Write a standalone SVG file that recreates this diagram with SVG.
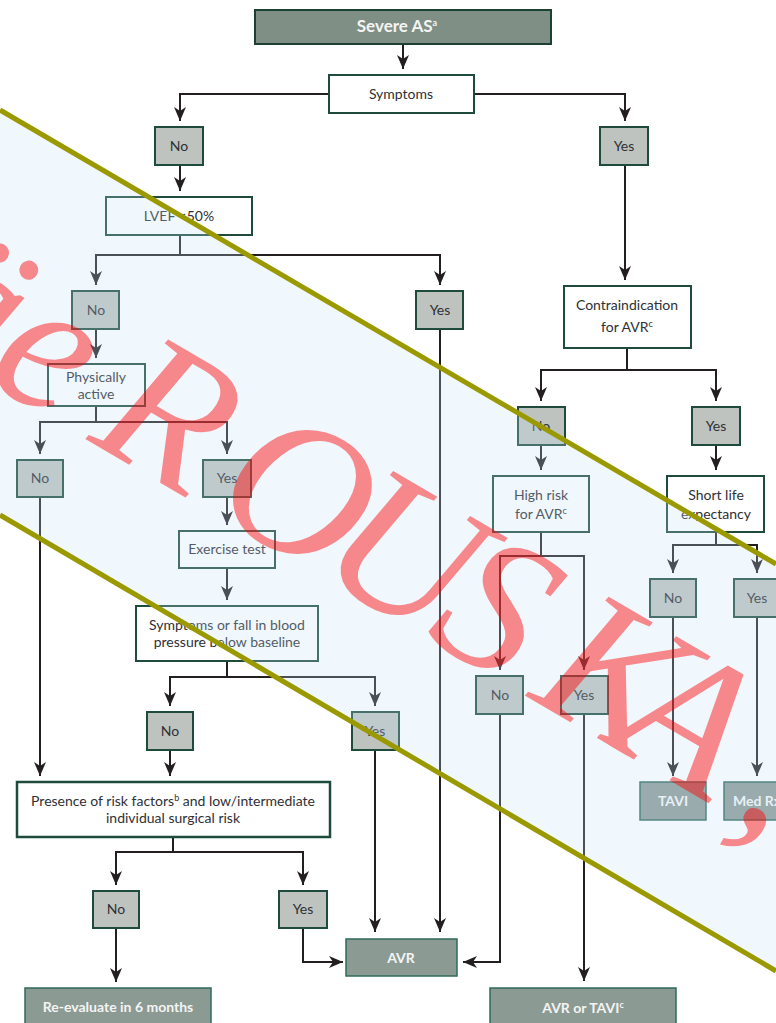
<svg xmlns="http://www.w3.org/2000/svg" width="776" height="1023" viewBox="0 0 776 1023">
  <defs>
    <marker id="ah" viewBox="0 0 14 12" markerWidth="14" markerHeight="12" refX="14" refY="6" orient="auto" markerUnits="userSpaceOnUse">
      <path d="M0,0 L14,6 L0,12 L4,6 Z" fill="#231f20"/>
    </marker>
    <style>
      .q { fill:#ffffff; stroke:#1f4b3d; stroke-width:2 }
      .q2 { fill:#ffffff; stroke:#1f4b3d; stroke-width:2.5 }
      .ans { fill:#bec3bf; stroke:#1f4b3d; stroke-width:2 }
      .res { fill:#8b9a93; stroke:#2f6a5b; stroke-width:1.5 }
      .hdr { fill:#7f8f85; stroke:#1d4034; stroke-width:2 }
      text { font-family: Lato, "Open Sans", sans-serif; font-size:14px; fill:#2e3035; text-anchor:middle }
      .wt { fill:#f4f4f4; font-weight:bold }
      .sup { font-size:9px }
      #connectors path { fill:none; stroke:#231f20; stroke-width:2; marker-end:url(#ah) }
    </style>
  </defs>
  <rect width="776" height="1023" fill="#ffffff"/>

  <g id="connectors">
    <path d="M403,44 V69"/>
    <path d="M329,94 H180 V121"/>
    <path d="M474,94 H625 V121"/>
    <path d="M180,165 V191"/>
    <path d="M180,235 V255 H96 V285"/>
    <path d="M180,255 H440 V285"/>
    <path d="M625,165 V280"/>
    <path d="M440,329 V932"/>
    <path d="M96,329 V358"/>
    <path d="M96,406 V422 H40 V454"/>
    <path d="M96,422 H227 V454"/>
    <path d="M40,497 V776"/>
    <path d="M227,497 V525"/>
    <path d="M227,568 V600"/>
    <path d="M227,661 V677 H170 V706"/>
    <path d="M227,677 H375 V706"/>
    <path d="M170,750 V776"/>
    <path d="M375,750 V932"/>
    <path d="M173,837 V852 H116 V885"/>
    <path d="M173,852 H303 V885"/>
    <path d="M116,928 V982"/>
    <path d="M303,928 V962 H343"/>
    <path d="M627,348 V370 H541 V401"/>
    <path d="M627,370 H716 V401"/>
    <path d="M541,445 V470"/>
    <path d="M716,445 V470"/>
    <path d="M541,532 V556 H500 V670"/>
    <path d="M541,556 H584 V670"/>
    <path d="M500,714 V962 H463"/>
    <path d="M584,714 V981"/>
    <path d="M716,532 V545 H673 V573"/>
    <path d="M716,545 H757 V573"/>
    <path d="M673,617 V776"/>
    <path d="M757,617 V776"/>
  </g>

  <g id="n-severe"><rect class="hdr" x="255" y="10" width="296" height="34"/><text class="wt" x="397" y="32" style="font-size:17px">Severe AS<tspan class="sup" dy="-6">a</tspan></text></g>
  <g id="n-symptoms"><rect class="q" x="329" y="75" width="145" height="38"/><text x="401" y="99">Symptoms</text></g>
  <g id="n-no1"><rect class="ans" x="155" y="127" width="48" height="38"/><text x="179" y="151">No</text></g>
  <g id="n-yes1"><rect class="ans" x="600" y="127" width="48" height="38"/><text x="624" y="151">Yes</text></g>
  <g id="n-lvef"><rect class="q" x="106" y="197" width="146" height="38"/><text x="179" y="221">LVEF &lt;50%</text></g>
  <g id="n-no2"><rect class="ans" x="72" y="291" width="47" height="38"/><text x="96" y="315">No</text></g>
  <g id="n-yes2"><rect class="ans" x="416" y="291" width="47" height="38"/><text x="440" y="315">Yes</text></g>
  <g id="n-active"><rect class="q" x="48" y="364" width="97" height="42"/><text x="96" y="382">Physically</text><text x="96" y="399">active</text></g>
  <g id="n-no3"><rect class="ans" x="17" y="460" width="46" height="37"/><text x="40" y="483">No</text></g>
  <g id="n-yes3"><rect class="ans" x="203" y="460" width="48" height="37"/><text x="227" y="483">Yes</text></g>
  <g id="n-exercise"><rect class="q" x="179" y="531" width="96" height="37"/><text x="227" y="554">Exercise test</text></g>
  <g id="n-fall"><rect class="q" x="136" y="606" width="182" height="55"/><text x="227" y="630">Symptoms or fall in blood</text><text x="227" y="647">pressure below baseline</text></g>
  <g id="n-no4"><rect class="ans" x="147" y="712" width="46" height="38"/><text x="170" y="736">No</text></g>
  <g id="n-yes4"><rect class="ans" x="352" y="712" width="47" height="38"/><text x="375" y="736">Yes</text></g>
  <g id="n-presence"><rect class="q2" x="17" y="782" width="313" height="55"/><text x="173" y="806">Presence of risk factors<tspan class="sup" dy="-5">b</tspan><tspan dy="5"> and low/intermediate</tspan></text><text x="173" y="823">individual surgical risk</text></g>
  <g id="n-no5"><rect class="ans" x="93" y="891" width="46" height="37"/><text x="116" y="914">No</text></g>
  <g id="n-yes5"><rect class="ans" x="279" y="891" width="48" height="37"/><text x="303" y="914">Yes</text></g>
  <g id="n-reeval"><rect class="res" x="25" y="988" width="186" height="40"/><text class="wt" x="118" y="1012">Re-evaluate in 6 months</text></g>
  <g id="n-avr"><rect class="res" x="346" y="939" width="111" height="37"/><text class="wt" x="401" y="963">AVR</text></g>
  <g id="n-contra"><rect class="q" x="564" y="286" width="127" height="62"/><text x="627" y="310">Contraindication</text><text x="627" y="332">for AVR<tspan class="sup" dy="-5">c</tspan></text></g>
  <g id="n-no6"><rect class="ans" x="518" y="407" width="47" height="38"/><text x="541" y="431">No</text></g>
  <g id="n-yes6"><rect class="ans" x="692" y="407" width="48" height="38"/><text x="716" y="431">Yes</text></g>
  <g id="n-highrisk"><rect class="q" x="493" y="476" width="96" height="56"/><text x="541" y="500">High risk</text><text x="541" y="519">for AVR<tspan class="sup" dy="-5">c</tspan></text></g>
  <g id="n-shortlife"><rect class="q" x="667" y="476" width="97" height="56"/><text x="716" y="500">Short life</text><text x="716" y="519">expectancy</text></g>
  <g id="n-no7"><rect class="ans" x="476" y="676" width="47" height="38"/><text x="500" y="700">No</text></g>
  <g id="n-yes7"><rect class="ans" x="561" y="676" width="47" height="38"/><text x="584" y="700">Yes</text></g>
  <g id="n-avrtavi"><rect class="res" x="490" y="988" width="186" height="40"/><text class="wt" x="583" y="1013">AVR or TAVI<tspan class="sup" dy="-5">c</tspan></text></g>
  <g id="n-no8"><rect class="ans" x="650" y="579" width="46" height="38"/><text x="673" y="603">No</text></g>
  <g id="n-yes8"><rect class="ans" x="734" y="579" width="47" height="38"/><text x="757" y="603">Yes</text></g>
  <g id="n-tavi"><rect class="res" x="640" y="782" width="66" height="38"/><text class="wt" x="673" y="806">TAVI</text></g>
  <g id="n-medrx"><rect class="res" x="724" y="782" width="66" height="38"/><text class="wt" x="757" y="806">Med Rx</text></g>

  <!-- diagonal stamp band with its two olive rules and the red lettering -->
  <g id="stamp">
    <polygon points="0,110 776,564 776,971 0,515" fill="rgb(194,223,247)" fill-opacity="0.25"/>
    <path d="M0,110 L776,564 M0,515 L776,971" stroke="#9a9a00" stroke-width="5" fill="none"/>
    <g transform="translate(0,389) rotate(30.3)">
      <text x="-115 -20 100 240 362 490 610 702 845 893 908" y="0" style="font-family:'Liberation Serif',serif;font-style:italic;font-size:195px;fill:#ff0000;text-anchor:start" opacity="0.45">äeROUSKA, J</text>
    </g>
  </g>
</svg>
